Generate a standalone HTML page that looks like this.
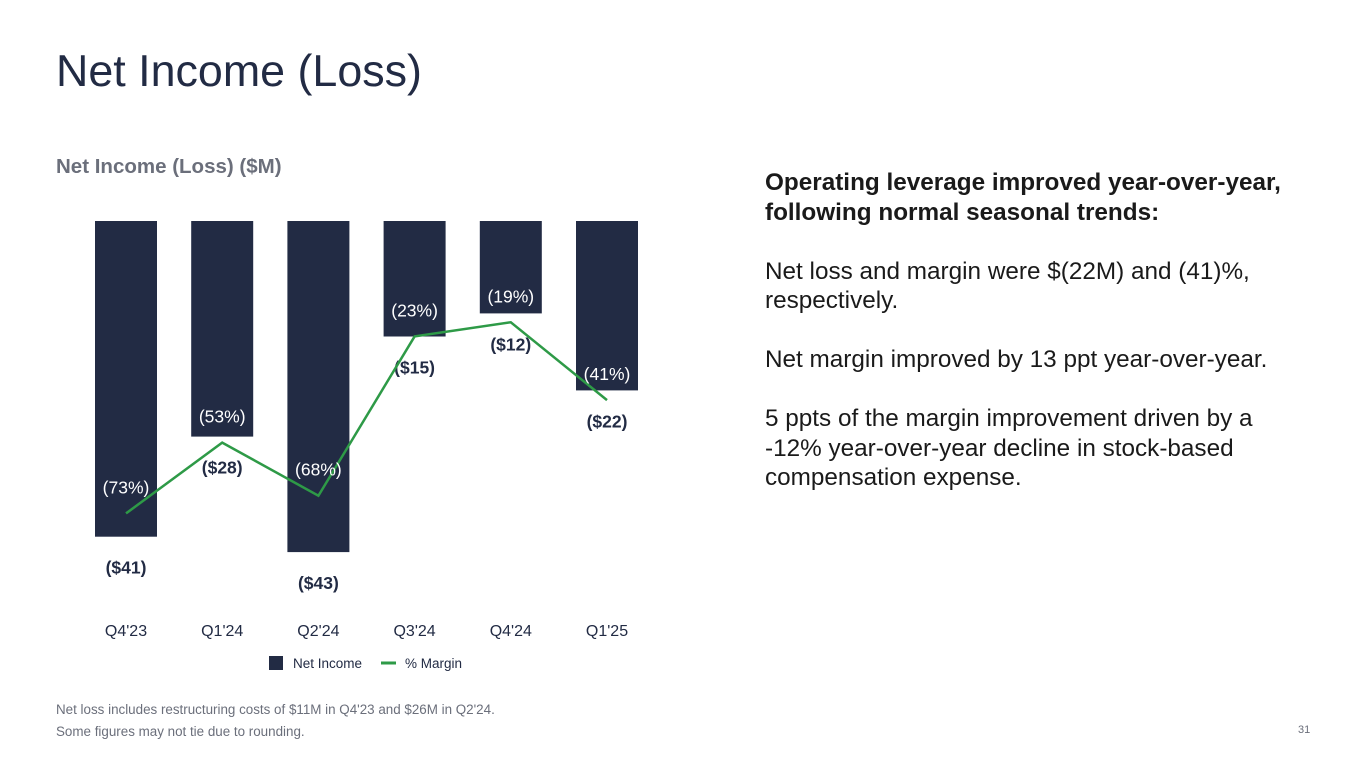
<!DOCTYPE html>
<html><head><meta charset="utf-8"><style>
body{margin:0;width:1365px;height:768px;background:#fff;font-family:"Liberation Sans",sans-serif;overflow:hidden;position:relative;color:#222b44}
.abs{position:absolute}
h1{position:absolute;left:56px;top:46px;margin:0;font-weight:400;font-size:44.8px;color:#222b44}
.sub{left:56px;top:155px;font-size:20.5px;font-weight:700;color:#6b6f7b}
.side{left:765px;top:168px;font-size:24.3px;line-height:29.5px;color:#1a1a1a;width:545px}
.foot{left:56px;font-size:13.4px;color:#6b6f7b}
</style></head><body>
<h1>Net Income (Loss)</h1>
<div class="abs sub">Net Income (Loss) ($M)</div>
<div class="abs side"><b>Operating leverage improved year-over-year, following normal seasonal trends:</b><br><br>Net loss and margin were $(22M) and (41)%, respectively.<br><br>Net margin improved by 13 ppt year-over-year.<br><br>5 ppts of the margin improvement driven by a<br>-12% year-over-year decline in stock-based compensation expense.</div>
<div class="abs foot" style="top:702px">Net loss includes restructuring costs of $11M in Q4'23 and $26M in Q2'24.</div>
<div class="abs foot" style="top:724px">Some figures may not tie due to rounding.</div>
<div class="abs foot" style="left:1298px;top:724px;font-size:11px">31</div>
<svg id="chart" class="abs" style="left:0;top:0" width="1365" height="768"></svg>
<script>
const categories=["Q4'23","Q1'24","Q2'24","Q3'24","Q4'24","Q1'25"];
const netIncome=[-41,-28,-43,-15,-12,-22];
const marginPct=[-73,-53,-68,-23,-19,-41];
const NS="http://www.w3.org/2000/svg";
const svg=document.getElementById('chart');
const x0=126,step=96.2,barW=62,top0=221,pxPerM=7.7;
const xPos=i=>x0+i*step;
const yBar=v=>top0-v*pxPerM;
const yPct=v=>255-v*3.54;
function mk(t,a,txt){const e=document.createElementNS(NS,t);for(const k in a)e.setAttribute(k,a[k]);if(txt!==undefined)e.textContent=txt;svg.appendChild(e);return e;}
categories.forEach((c,i)=>{
 const b=mk('rect',{x:xPos(i)-barW/2,y:top0,width:barW,height:yBar(netIncome[i])-top0,fill:'#222b44'});
 
 
 const l=mk('text',{x:xPos(i),y:yBar(netIncome[i])+37,'text-anchor':'middle','font-size':17.5,'font-weight':700,fill:'#222b44'},'($'+Math.abs(netIncome[i])+')');
 
 
 const t=mk('text',{x:xPos(i),y:636,'text-anchor':'middle','font-size':16,fill:'#222b44'},c);
 
 
});
const line=mk('polyline',{points:marginPct.map((v,i)=>xPos(i)+','+yPct(v)).join(' '),fill:'none',stroke:'#2e9a47','stroke-width':2.5});


marginPct.forEach((v,i)=>{
 const inside=yPct(v)-20<yBar(netIncome[i]);
 const l=mk('text',{x:xPos(i),y:yPct(v)-20,'text-anchor':'middle','font-size':17.5,fill:inside?'#ffffff':'#222b44'},'('+Math.abs(v)+'%)');
 
 
});
const lg1=mk('rect',{x:269,y:656,width:14,height:14,fill:'#222b44'});


const lt1=mk('text',{x:293,y:668,'font-size':13.5,fill:'#222b44'},'Net Income');


const lg2=mk('line',{x1:381,y1:663,x2:396,y2:663,stroke:'#2e9a47','stroke-width':3});


const lt2=mk('text',{x:405,y:668,'font-size':13.5,fill:'#222b44'},'% Margin');


</script>
</body></html>
